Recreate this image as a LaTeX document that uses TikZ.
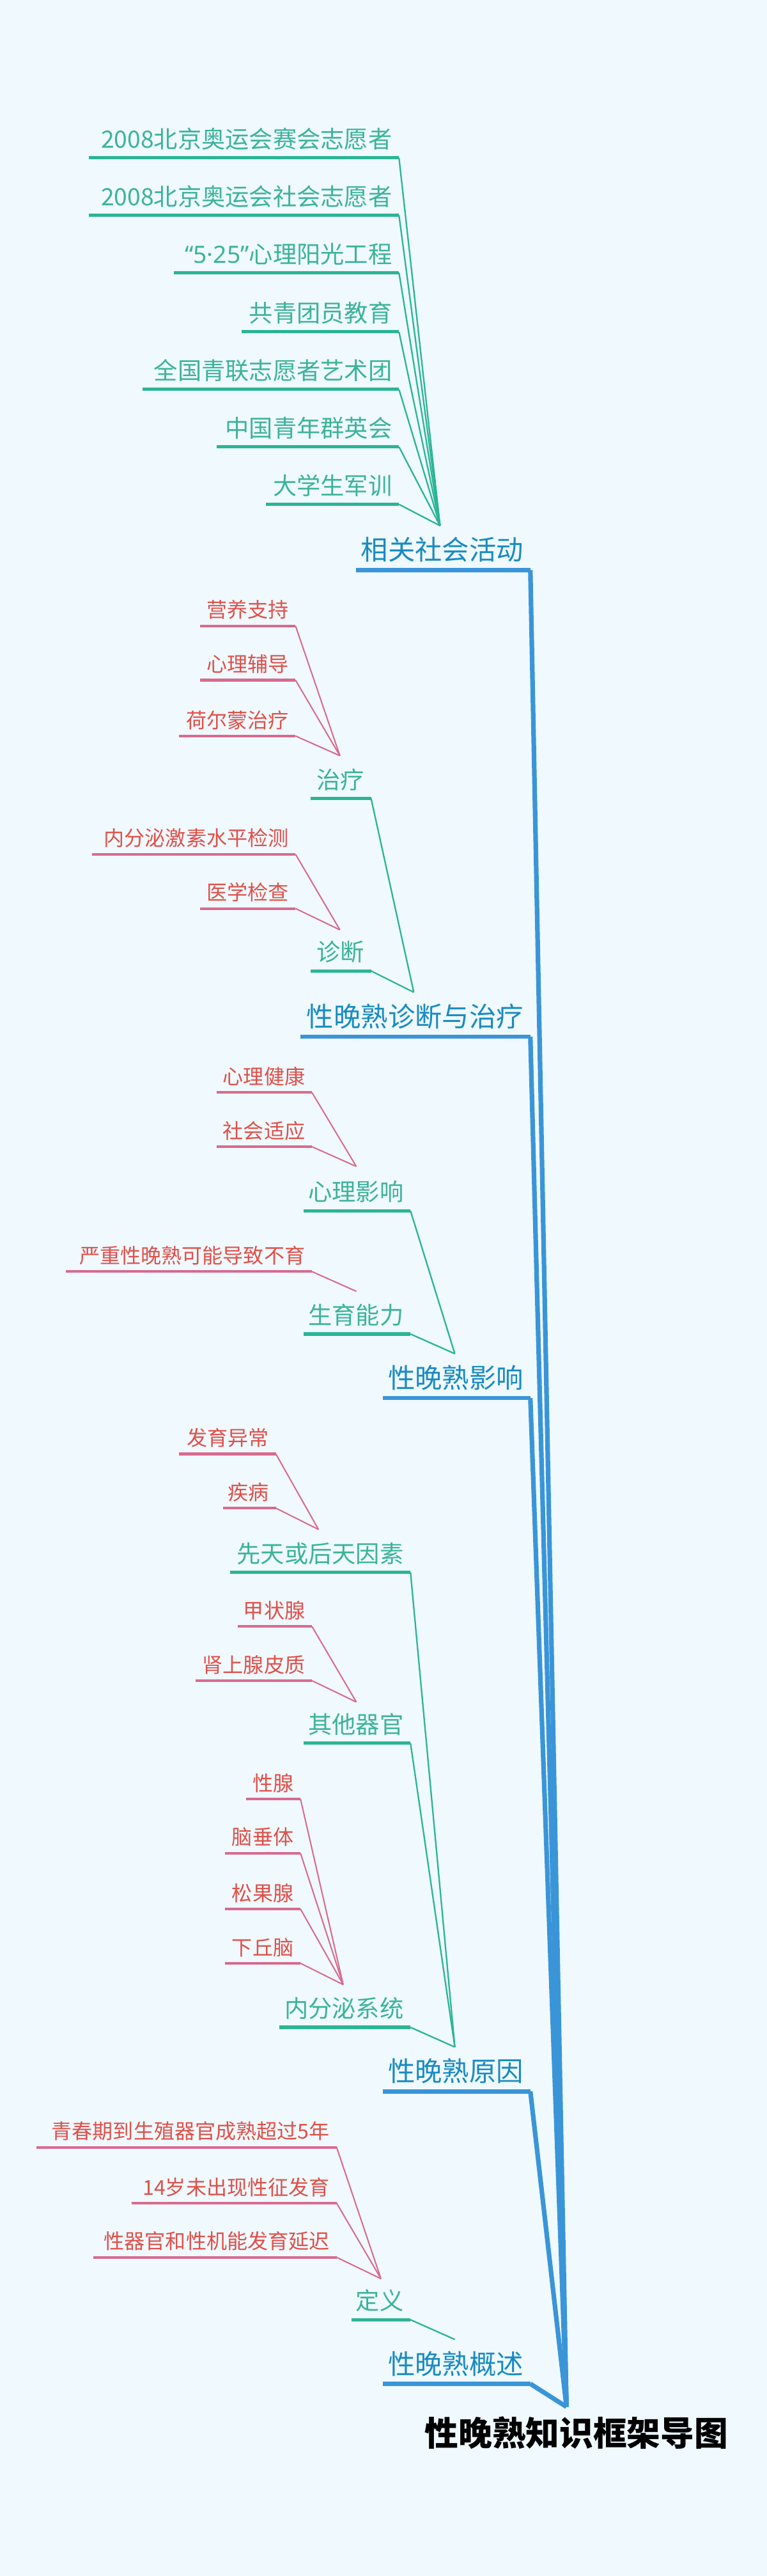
\documentclass[tikz,border=0pt]{standalone}
\usepackage{fontspec}
\setmainfont{Noto Sans CJK SC}
\newfontfamily\lat{Noto Sans}
\definecolor{bg}{HTML}{EFF9FE}
\definecolor{mainc}{HTML}{3A95D8}
\definecolor{maint}{HTML}{1A8BC0}
\definecolor{grl}{HTML}{2BB596}
\definecolor{grt}{HTML}{3CB39A}
\definecolor{pkl}{HTML}{D96A8E}
\definecolor{rdt}{HTML}{E0504A}
\tikzset{
 mtext/.style={font=\fontsize{16.5}{18}\selectfont, text=maint, inner sep=0pt, anchor=base east},
 gtext/.style={font=\fontsize{14.5}{16}\selectfont, text=grt, inner sep=0pt, anchor=base east},
 rtext/.style={font=\fontsize{12.5}{14}\selectfont, text=rdt, inner sep=0pt, anchor=base east},
 mline/.style={draw=mainc, line width=2.6pt},
 mconn/.style={draw=mainc, line width=2.8pt, line join=round},
 gline/.style={draw=grl, line width=2pt},
 gconn/.style={draw=grl, line width=0.9pt},
 rline/.style={draw=pkl, line width=1.6pt},
 rconn/.style={draw=pkl, line width=0.8pt},
}
\begin{document}
\begin{tikzpicture}[x=1pt,y=-1pt]
\fill[bg] (0,0) rectangle (467,1568);
\useasboundingbox (0,0) rectangle (467,1568);
% root
\coordinate (hub) at (345,1465);
\node[font=\fontsize{20.5}{22}\selectfont\bfseries, inner sep=0pt] (root) at (351,1481) {性晚熟知识框架导图};
% main branches
\foreach \n/\t/\y/\x in {m1/相关社会活动/347/217, m2/性晚熟诊断与治疗/631/183, m3/性晚熟影响/851/233, m4/性晚熟原因/1273/233, m5/性晚熟概述/1451/233}{
  \node[mtext] (\n) at (319,\y-6) {\t};
  \coordinate (\n e) at (323,\y);
  \draw[mline] (\x,\y) -- (\n e);
  \draw[mconn] (\n e) -- (hub);
}
% convergence points
\coordinate (c1) at (268,320);
\coordinate (c2) at (252,604);
\coordinate (c21) at (207,460);
\coordinate (c22) at (207,566);
\coordinate (c3) at (277,824);
\coordinate (c31) at (217,710);
\coordinate (c32) at (217,786);
\coordinate (c4) at (277,1246);
\coordinate (c41) at (194,931);
\coordinate (c42) at (217,1036);
\coordinate (c43) at (209,1208);
\coordinate (c5) at (277,1424);
\coordinate (c51) at (232,1387);
% level 2 under m1
\foreach \n/\t/\y/\x in {a1/2008北京奥运会赛会志愿者/96/54, a2/2008北京奥运会社会志愿者/131/54, a3/{{\lat “5·25”}心理阳光工程}/166/106, a4/共青团员教育/202/147, a5/全国青联志愿者艺术团/237/87, a6/中国青年群英会/272/132, a7/大学生军训/307/162}{
  \node[gtext] (\n) at (239,\y-6) {\t};
  \coordinate (\n e) at (243,\y);
  \draw[gline] (\x,\y) -- (\n e);
  \draw[gconn] (\n e) -- (c1);
}
% level 2 others
\foreach \n/\t/\y/\x/\e/\c in {b1/治疗/486/189/226/c2, b2/诊断/591/189/226/c2, d1/心理影响/737/185/250/c3, d2/生育能力/812/185/250/c3, f1/先天或后天因素/957/140/250/c4, f2/其他器官/1061/185/250/c4, f3/内分泌系统/1234/170/250/c4, g1/定义/1412/214/250/c5}{
  \node[gtext] (\n) at (\e-4,\y-6) {\t};
  \coordinate (\n e) at (\e,\y);
  \draw[gline] (\x,\y) -- (\n e);
  \draw[gconn] (\n e) -- (\c);
}
% level 3
\foreach \n/\t/\y/\x/\e/\c in {
 r1/营养支持/381/122/180/c21, r2/心理辅导/414/122/180/c21, r3/荷尔蒙治疗/448/109/180/c21,
 r4/内分泌激素水平检测/520/56/180/c22, r5/医学检查/553/122/180/c22,
 r6/心理健康/665/132/190/c31, r7/社会适应/698/132/190/c31,
 r8/严重性晚熟可能导致不育/774/40/190/c32,
 r9/发育异常/885/109/168/c41, r10/疾病/918/136/168/c41,
 r11/甲状腺/990/145/190/c42, r12/肾上腺皮质/1023/119/190/c42,
 r13/性腺/1095/150/183/c43, r14/脑垂体/1128/137/183/c43, r15/松果腺/1162/137/183/c43, r16/下丘脑/1195/137/183/c43,
 r17/青春期到生殖器官成熟超过5年/1307/22/205/c51, r18/14岁未出现性征发育/1341/80/205/c51, r19/性器官和性机能发育延迟/1374/57/205/c51}{
  \node[rtext] (\n) at (\e-4,\y-5) {\t};
  \coordinate (\n e) at (\e,\y);
  \draw[rline] (\x,\y) -- (\n e);
  \draw[rconn] (\n e) -- (\c);
}
\end{tikzpicture}
\end{document}
